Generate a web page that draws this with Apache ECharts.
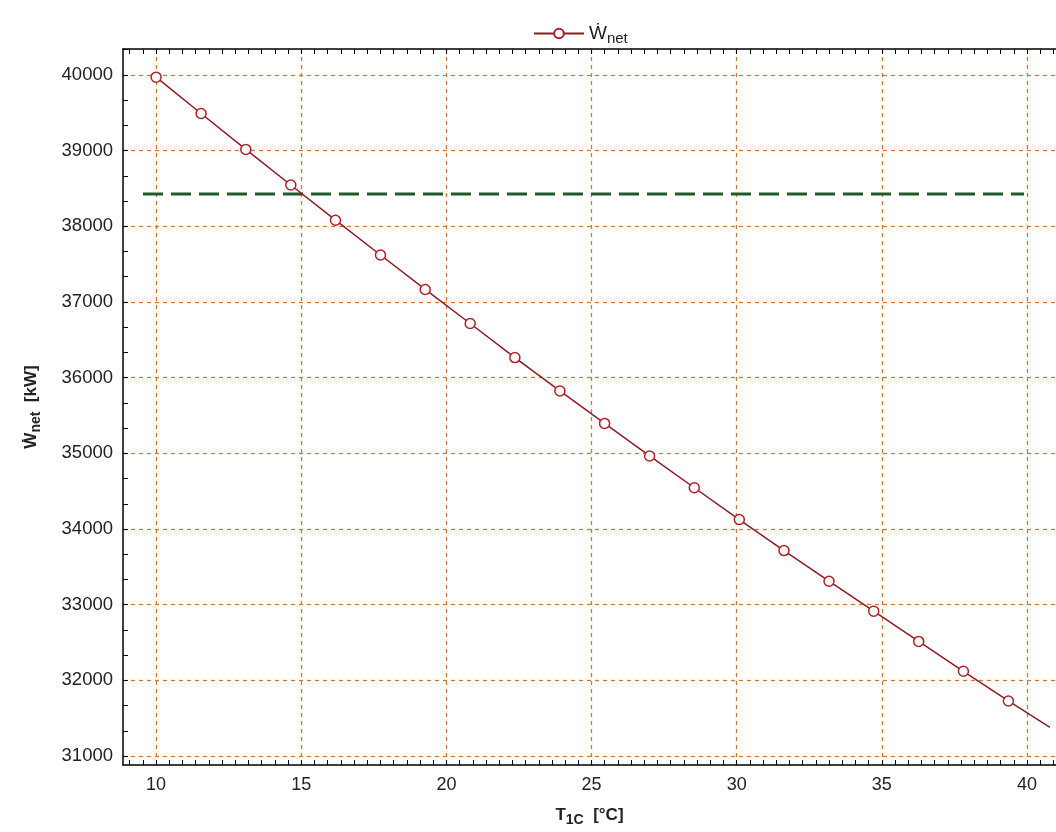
<!DOCTYPE html>
<html>
<head>
<meta charset="utf-8">
<script src="https://cdn.jsdelivr.net/npm/echarts@6/dist/echarts.min.js"></script>
<style>html,body{margin:0;padding:0;background:#fff}#c{width:1056px;height:832px}</style>
</head>
<body>
<div id="c"></div>
<script>
// Data
const tempC = [10, 11.55, 13.09, 14.64, 16.18, 17.73, 19.27, 20.82, 22.36, 23.91, 25.45, 27.0, 28.54, 30.09, 31.63, 33.18, 34.72, 36.27, 37.81, 39.36];
const wNet = [39970, 39490, 39015, 38545, 38080, 37620, 37165, 36715, 36265, 35825, 35395, 34965, 34545, 34125, 33715, 33310, 32915, 32515, 32120, 31728];
const lineEnd = [40.79, 31380];
const refLineX = [9.55, 39.9];
const refLineY = 38425;
const xMajorTicks = [10, 15, 20, 25, 30, 35, 40];
const yMajorTicks = [31000, 32000, 33000, 34000, 35000, 36000, 37000, 38000, 39000, 40000];
const xRange = [8.86, 41];
const yRange = [30882, 40342];

// minor tick positions
const xMinor = [];
for (let i = -2; i <= 68; i++) { const v = 10 + i * 5 / 11; if (v >= xRange[0] && v <= xRange[1]) xMinor.push(+v.toFixed(4)); }
const yMinor = [];
for (let i = 0; i <= 28; i++) { const v = 31000 + i * 1000 / 3; if (v <= yRange[1]) yMinor.push(+v.toFixed(2)); }

const lineData = tempC.map((x, i) => [x, wNet[i]]);
lineData.push({ value: lineEnd, symbol: 'none' });

const FONT = 'Liberation Sans, Arial, DejaVu Sans, sans-serif';
const gridColor = '#d2782f';

const chart = echarts.init(document.getElementById('c'), null, { renderer: 'canvas' });
chart.setOption({
  animation: false,
  backgroundColor: '#fff',
  grid: { left: 123, top: 49, right: 0, bottom: 63, containLabel: false },
  legend: {
    left: 528, top: 19,
    itemWidth: 50, itemHeight: 12,
    data: ['W'],
    formatter: function () { return '{w|Ẇ}{s|net}'; },
    textStyle: {
      fontFamily: FONT, color: '#222',
      rich: {
        w: { fontSize: 19, fontFamily: FONT, color: '#222' },
        s: { fontSize: 15, fontFamily: FONT, color: '#222', padding: [10, 0, 0, 0] }
      }
    }
  },
  xAxis: [
    {
      type: 'value', position: 'bottom', min: xRange[0], max: xRange[1],
      axisLine: { show: true, onZero: false, lineStyle: { color: '#000', width: 1.5 } },
      axisTick: { show: true, inside: true, length: 5, customValues: xMinor, lineStyle: { color: '#000', width: 1 } },
      axisLabel: { customValues: xMajorTicks, margin: 11, fontSize: 18, fontFamily: FONT, color: '#222', formatter: v => String(v) },
      splitLine: { show: false },
      name: '{b|T}{bs|1C}{b|  [°C]}', nameLocation: 'middle', nameGap: 38,
      nameTextStyle: {
        rich: {
          b: { fontSize: 17, fontWeight: 'bold', fontFamily: FONT, color: '#222' },
          bs: { fontSize: 14, fontWeight: 'bold', fontFamily: FONT, color: '#222', padding: [10, 0, 0, 0] }
        }
      }
    },
    {
      type: 'value', position: 'top', min: xRange[0], max: xRange[1],
      axisLine: { show: true, onZero: false, lineStyle: { color: '#000', width: 1.5 } },
      axisTick: { show: true, inside: true, length: 5, customValues: xMinor, lineStyle: { color: '#000', width: 1 } },
      axisLabel: { show: false },
      splitLine: { show: false }
    },
    {
      type: 'value', position: 'bottom', min: xRange[0], max: xRange[1],
      axisLine: { show: false },
      axisTick: { show: false, customValues: xMajorTicks },
      axisLabel: { show: false, customValues: xMajorTicks },
      splitLine: { show: true, lineStyle: { color: gridColor, type: [4, 4], width: 1.3 } }
    }
  ],
  yAxis: [
    {
      type: 'value', position: 'left', min: yRange[0], max: yRange[1],
      axisLine: { show: true, onZero: false, lineStyle: { color: '#000', width: 1.5 } },
      axisTick: { show: true, inside: true, length: 5, customValues: yMinor, lineStyle: { color: '#000', width: 1 } },
      axisLabel: { customValues: yMajorTicks, margin: 10, fontSize: 18.5, fontFamily: FONT, color: '#222', formatter: v => String(v) },
      splitLine: { show: false },
      name: '{b|Ẇ}{bs|net}{b|  [kW]}', nameLocation: 'middle', nameGap: 80,
      nameTextStyle: {
        rich: {
          b: { fontSize: 17, fontWeight: 'bold', fontFamily: FONT, color: '#222' },
          bs: { fontSize: 14, fontWeight: 'bold', fontFamily: FONT, color: '#222', padding: [10, 0, 0, 0] }
        }
      }
    },
    {
      type: 'value', position: 'right', min: yRange[0], max: yRange[1],
      axisLine: { show: false },
      axisTick: { show: false, customValues: yMajorTicks },
      axisLabel: { show: false, customValues: yMajorTicks },
      splitLine: { show: true, lineStyle: { color: gridColor, type: [4, 4], width: 1.3 } }
    }
  ],
  series: [
    {
      name: 'W', type: 'line', xAxisIndex: 0, yAxisIndex: 0,
      data: lineData,
      symbol: 'circle', symbolSize: 10,
      itemStyle: { color: '#fff', borderColor: '#b0202a', borderWidth: 1.5 },
      lineStyle: { color: '#8e1b24', width: 1.5 },
      z: 5
    },
    {
      name: 'ref', type: 'line', xAxisIndex: 0, yAxisIndex: 0,
      data: [[refLineX[0], refLineY], [refLineX[1], refLineY]],
      symbol: 'none',
      lineStyle: { color: '#1e5b2a', width: 3, type: [20, 8] },
      z: 4
    }
  ]
});
</script>
</body>
</html>
